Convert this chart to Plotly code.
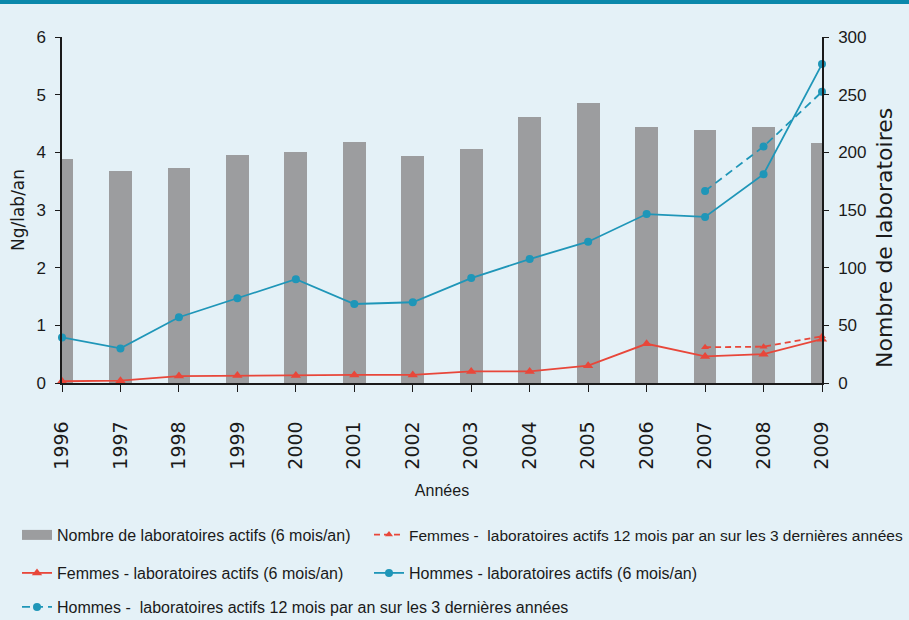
import plotly.graph_objects as go

# Data
years = list(range(1996, 2010))
nb_labos = [194, 184, 186, 198, 200, 209, 197, 203, 231, 243, 222, 219, 222, 208]
hommes_6 = [0.79, 0.60, 1.14, 1.47, 1.80, 1.37, 1.40, 1.82, 2.15, 2.45, 2.93, 2.88, 3.62, 5.53]
femmes_6 = [0.03, 0.04, 0.12, 0.13, 0.13, 0.14, 0.14, 0.20, 0.20, 0.30, 0.68, 0.46, 0.50, 0.76]
years_12 = [2007, 2008, 2009]
hommes_12 = [3.33, 4.10, 5.05]
femmes_12 = [0.62, 0.63, 0.81]

bg = "#e4f1f7"
bar_color = "#9c9d9f"
blue = "#1f96b8"
red = "#e8473a"
ink = "#1a1a1a"
sans = "Liberation Sans, Arial, sans-serif"
wide = "DejaVu Sans, sans-serif"

W, H = 909, 620
L, R, T, B = 62, 87, 37, 237
pw, ph = W - L - R, H - T - B


def leg(px, py, size=16):
    # legend box placed by figure pixels, converted to paper coordinates
    return dict(x=(px - L) / pw, y=(H - B - py) / ph, xref="paper", yref="paper",
                xanchor="left", yanchor="middle", bgcolor="rgba(0,0,0,0)",
                borderwidth=0, font=dict(family=sans, size=size, color=ink))


fig = go.Figure()

# bars on the right axis (drawn first, lines sit on top)
fig.add_trace(go.Bar(x=years, y=nb_labos, yaxis="y", marker=dict(color=bar_color, line=dict(width=0)),
                     width=0.39, showlegend=False, name="Nombre de laboratoires actifs (6 mois/an)"))
# legend proxy for the bars (wide grey swatch)
fig.add_trace(go.Scatter(x=[None], y=[None], mode="lines", yaxis="y",
                         line=dict(color=bar_color, width=14),
                         name="Nombre de laboratoires actifs (6 mois/an)", legend="legend"))

fig.add_trace(go.Scatter(x=years_12, y=femmes_12, yaxis="y2", mode="lines+markers", cliponaxis=False,
                         line=dict(color=red, width=1.8, dash="6px,4px"),
                         marker=dict(symbol="triangle-up", size=7, color=red),
                         name="Femmes -  laboratoires actifs 12 mois par an sur les 3 dernières années",
                         legend="legend2"))
fig.add_trace(go.Scatter(x=years, y=femmes_6, yaxis="y2", mode="lines+markers", cliponaxis=False,
                         line=dict(color=red, width=1.8),
                         marker=dict(symbol="triangle-up", size=9, color=red),
                         name="Femmes - laboratoires actifs (6 mois/an)", legend="legend3"))
fig.add_trace(go.Scatter(x=years, y=hommes_6, yaxis="y2", mode="lines+markers", cliponaxis=False,
                         line=dict(color=blue, width=1.8),
                         marker=dict(symbol="circle", size=8, color=blue),
                         name="Hommes - laboratoires actifs (6 mois/an)", legend="legend4"))
fig.add_trace(go.Scatter(x=years_12, y=hommes_12, yaxis="y2", mode="lines+markers", cliponaxis=False,
                         line=dict(color=blue, width=1.8, dash="8px,5px"),
                         marker=dict(symbol="circle", size=8, color=blue),
                         name="Hommes -  laboratoires actifs 12 mois par an sur les 3 dernières années",
                         legend="legend5"))

fig.update_layout(
    width=W, height=H, autosize=False,
    margin=dict(l=L, r=R, t=T, b=B, autoexpand=False),
    paper_bgcolor=bg, plot_bgcolor=bg,
    bargap=0,
    xaxis=dict(range=[1996, 2009], tickvals=years, tickangle=-90,
               ticks="outside", ticklen=7, tickcolor=ink, showline=True, linecolor=ink, linewidth=1.5,
               showgrid=False, zeroline=False, ticklabelstandoff=22,
               tickfont=dict(family=wide, size=19, color=ink),
               title=dict(text="Années", font=dict(family=sans, size=16, color=ink), standoff=16)),
    yaxis=dict(side="right", range=[0, 300], dtick=50, ticks="outside", ticklen=5, tickcolor=ink,
               showline=True, linecolor=ink, linewidth=1.5, showgrid=False, zeroline=False,
               ticklabelstandoff=6,
               tickfont=dict(family=sans, size=17, color=ink)),
    yaxis2=dict(side="left", overlaying="y", range=[0, 6], dtick=1, ticks="outside", ticklen=5,
                tickcolor=ink, showline=True, linecolor=ink, linewidth=1.5, showgrid=False,
                zeroline=False, ticklabelstandoff=6,
                tickfont=dict(family=sans, size=17, color=ink),
                title=dict(text="Ng/lab/an", font=dict(family=wide, size=17, color=ink), standoff=7)),
    legend=leg(17, 535),
    legend2=leg(369, 535, 15.5),
    legend3=leg(17, 573),
    legend4=leg(369, 573),
    legend5=leg(17, 607),
    # right axis title sits a little below the axis centre in the reference
    annotations=[dict(text="Nombre de laboratoires", textangle=-90, showarrow=False,
                      xref="paper", yref="paper", x=(884 - L) / pw, y=(H - B - 238) / ph,
                      xanchor="center", yanchor="middle",
                      font=dict(family=wide, size=22, color=ink))],
    shapes=[dict(type="rect", xref="paper", yref="paper",
                 x0=-L / pw, x1=1 + R / pw, y0=1 + (T - 4) / ph, y1=1 + T / ph + 0.01,
                 fillcolor="#0a88ab", line=dict(width=0), layer="above")],
)

fig.write_html("out.html", config={"displayModeBar": False},
               post_script="document.body.style.margin='0';")
